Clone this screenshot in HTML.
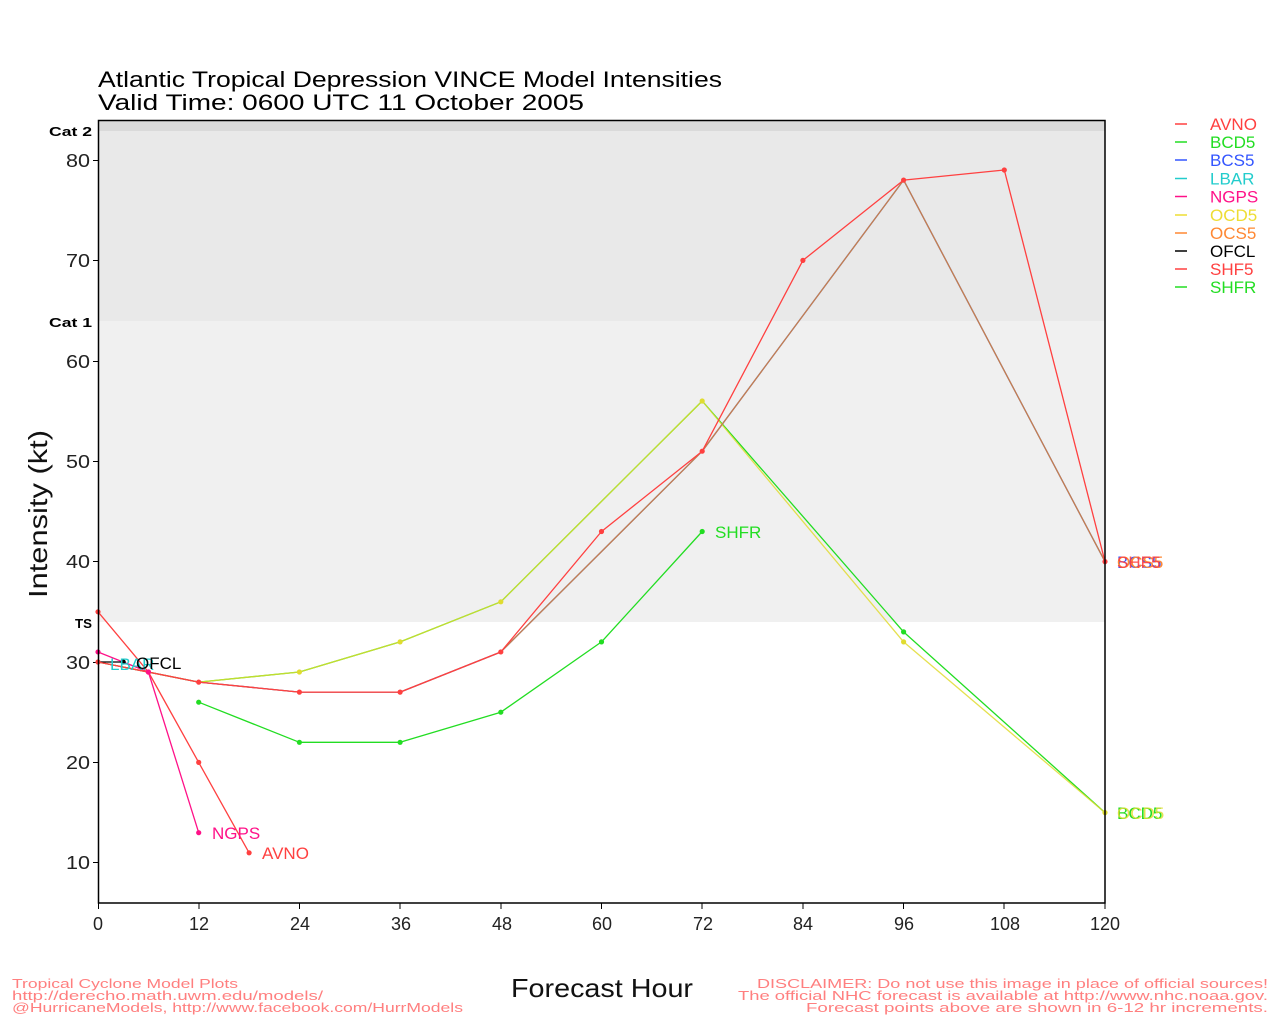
<!DOCTYPE html>
<html><head><meta charset="utf-8"><style>
html,body{margin:0;padding:0;background:#fff;}
svg{display:block;}
text{font-family:"Liberation Sans",sans-serif;}
</style></head><body>
<svg width="1280" height="1024" viewBox="0 0 1280 1024" xmlns="http://www.w3.org/2000/svg">
<rect x="0" y="0" width="1280" height="1024" fill="#fff"/>
<!-- bands -->
<rect x="98" y="120" width="1007" height="11" fill="#dadada"/>
<rect x="98" y="131" width="1007" height="190" fill="#e9e9e9"/>
<rect x="98" y="321" width="1007" height="301" fill="#f0f0f0"/>
<!-- title -->
<text x="98" y="87" font-size="22" textLength="624" lengthAdjust="spacingAndGlyphs" fill="#000">Atlantic Tropical Depression VINCE Model Intensities</text>
<text x="98" y="110" font-size="22" textLength="486" lengthAdjust="spacingAndGlyphs" fill="#000">Valid Time: 0600 UTC 11 October 2005</text>
<!-- cat labels -->
<g font-size="13" font-weight="bold" fill="#000">
<text x="49" y="136" textLength="43" lengthAdjust="spacingAndGlyphs">Cat 2</text>
<text x="49" y="327" textLength="43" lengthAdjust="spacingAndGlyphs">Cat 1</text>
<text x="75" y="628" textLength="17" lengthAdjust="spacingAndGlyphs">TS</text>
</g>
<!-- y ticks -->
<g stroke="#000" stroke-width="1">
<line x1="93" y1="160.5" x2="98" y2="160.5"/>
<line x1="93" y1="260.5" x2="98" y2="260.5"/>
<line x1="93" y1="361.5" x2="98" y2="361.5"/>
<line x1="93" y1="461.5" x2="98" y2="461.5"/>
<line x1="93" y1="561.5" x2="98" y2="561.5"/>
<line x1="93" y1="662.5" x2="98" y2="662.5"/>
<line x1="93" y1="762.5" x2="98" y2="762.5"/>
<line x1="93" y1="862.5" x2="98" y2="862.5"/>
</g>
<g font-size="18" fill="#222" text-anchor="end">
<text x="90" y="167" textLength="24" lengthAdjust="spacingAndGlyphs">80</text>
<text x="90" y="267" textLength="24" lengthAdjust="spacingAndGlyphs">70</text>
<text x="90" y="368" textLength="24" lengthAdjust="spacingAndGlyphs">60</text>
<text x="90" y="468" textLength="24" lengthAdjust="spacingAndGlyphs">50</text>
<text x="90" y="568" textLength="24" lengthAdjust="spacingAndGlyphs">40</text>
<text x="90" y="669" textLength="24" lengthAdjust="spacingAndGlyphs">30</text>
<text x="90" y="769" textLength="24" lengthAdjust="spacingAndGlyphs">20</text>
<text x="90" y="869" textLength="24" lengthAdjust="spacingAndGlyphs">10</text>
</g>
<!-- x ticks -->
<g stroke="#000" stroke-width="1">
<line x1="98.5" y1="903" x2="98.5" y2="909"/>
<line x1="199" y1="903" x2="199" y2="909"/>
<line x1="299.5" y1="903" x2="299.5" y2="909"/>
<line x1="400" y1="903" x2="400" y2="909"/>
<line x1="501" y1="903" x2="501" y2="909"/>
<line x1="601.5" y1="903" x2="601.5" y2="909"/>
<line x1="702" y1="903" x2="702" y2="909"/>
<line x1="803" y1="903" x2="803" y2="909"/>
<line x1="903.5" y1="903" x2="903.5" y2="909"/>
<line x1="1004" y1="903" x2="1004" y2="909"/>
<line x1="1105" y1="903" x2="1105" y2="909"/>
</g>
<g font-size="18" fill="#222" text-anchor="middle">
<text x="98" y="930">0</text>
<text x="199" y="930">12</text>
<text x="300" y="930">24</text>
<text x="401" y="930">36</text>
<text x="502" y="930">48</text>
<text x="602" y="930">60</text>
<text x="703" y="930">72</text>
<text x="803" y="930">84</text>
<text x="904" y="930">96</text>
<text x="1005" y="930">108</text>
<text x="1105" y="930">120</text>
</g>
<!-- axis labels -->
<text x="511" y="997" font-size="26" textLength="182" lengthAdjust="spacingAndGlyphs" fill="#111">Forecast Hour</text>
<text transform="translate(47,598) rotate(-90)" x="0" y="0" font-size="26" textLength="168" lengthAdjust="spacingAndGlyphs" fill="#111">Intensity (kt)</text>

<!-- series -->
<g fill="none" stroke-width="1.3" stroke-linejoin="round">
<!-- AVNO -->
<polyline stroke="#ff4040" points="98,611.8 148.4,672 198.7,762.4 249.1,852.8"/>
<!-- BCD5 -->
<polyline stroke="#22dd22" points="98,662 198.7,682.1 299.4,672 400.1,641.9 500.8,601.8 702.2,401 903.6,631.9 1105,812.6"/>
<!-- BCS5 -->
<polyline stroke="#3355ff" points="98,662 198.7,682.1 299.4,692.1 400.1,692.1 500.8,651.96 702.2,451.2 903.6,180.1 1105,561.6"/>
<!-- NGPS -->
<polyline stroke="#ff1188" points="98,651.96 148.4,672 198.7,832.7"/>
<!-- OCD5 -->
<polyline stroke="#e0dc30" stroke-opacity="0.85" points="98,662 198.7,682.1 299.4,672 400.1,641.9 500.8,601.8 702.2,401 903.6,641.9 1105,812.6"/>
<!-- OCS5 -->
<polyline stroke="#c8804a" points="98,662 198.7,682.1 299.4,692.1 400.1,692.1 500.8,651.96 702.2,451.2 903.6,180.1 1105,561.6"/>
<!-- OFCL -->
<polyline stroke="#000" points="98,662 123.2,662"/>
<!-- SHF5 -->
<polyline stroke="#ff4040" points="98,662 198.7,682.1 299.4,692.1 400.1,692.1 500.8,651.96 601.5,531.5 702.2,451.2 802.9,260.4 903.6,180.1 1004.3,170 1105,561.6"/>
<!-- SHFR -->
<polyline stroke="#22dd22" points="198.7,702.2 299.4,742.3 400.1,742.3 500.8,712.2 601.5,641.9 702.2,531.5"/>
</g>
<!-- markers -->
<g>
<g fill="#ff4040">
<circle cx="98" cy="611.8" r="2.6"/><circle cx="148.4" cy="672" r="2.6"/><circle cx="198.7" cy="762.4" r="2.6"/><circle cx="249.1" cy="852.8" r="2.6"/>
</g>
<g fill="#ff1188">
<circle cx="98" cy="651.96" r="2.6"/><circle cx="148.4" cy="672" r="2.6"/><circle cx="198.7" cy="832.7" r="2.6"/>
</g>
<g fill="#22dd22">
<circle cx="903.6" cy="631.9" r="2.6"/>
</g>
<g fill="#e0dc30">
<circle cx="299.4" cy="672" r="2.6"/><circle cx="400.1" cy="641.9" r="2.6"/><circle cx="500.8" cy="601.8" r="2.6"/><circle cx="702.2" cy="401" r="2.6"/><circle cx="903.6" cy="641.9" r="2.6"/><circle cx="1105" cy="812.6" r="2.6"/>
</g>
<g fill="#000"><circle cx="123.2" cy="662" r="2.6"/></g>
<g fill="#ff4040">
<circle cx="98" cy="662" r="2.6"/><circle cx="198.7" cy="682.1" r="2.6"/><circle cx="299.4" cy="692.1" r="2.6"/><circle cx="400.1" cy="692.1" r="2.6"/><circle cx="500.8" cy="651.96" r="2.6"/><circle cx="601.5" cy="531.5" r="2.6"/><circle cx="702.2" cy="451.2" r="2.6"/><circle cx="802.9" cy="260.4" r="2.6"/><circle cx="903.6" cy="180.1" r="2.6"/><circle cx="1004.3" cy="170" r="2.6"/><circle cx="1105" cy="561.6" r="2.6"/>
</g>
<g fill="#22dd22">
<circle cx="198.7" cy="702.2" r="2.6"/><circle cx="299.4" cy="742.3" r="2.6"/><circle cx="400.1" cy="742.3" r="2.6"/><circle cx="500.8" cy="712.2" r="2.6"/><circle cx="601.5" cy="641.9" r="2.6"/><circle cx="702.2" cy="531.5" r="2.6"/>
</g>
</g>
<!-- frame -->
<rect x="98.5" y="120.5" width="1006.5" height="782.5" fill="none" stroke="#000" stroke-width="1.5"/>

<!-- series end labels -->
<g font-size="17">
<text x="262" y="859" fill="#ff4040">AVNO</text>
<text x="212" y="839" fill="#ff1188">NGPS</text>
<text x="110" y="670" fill="#22cccc">LBAR</text>
<text x="136" y="669" fill="#000">OFCL</text>
<text x="715" y="538" fill="#22dd22">SHFR</text>
<text x="1117" y="568" fill="#3355ff">BCS5</text>
<text x="1117" y="568" fill="#ff8833">OCS5</text>
<text x="1117" y="568" fill="#ff4040" fill-opacity="0.9">SHF5</text>
<text x="1117" y="819" fill="#22dd22">BCD5</text>
<text x="1117" y="819" fill="#e0dc30" fill-opacity="0.85">OCD5</text>
</g>

<!-- legend -->
<g stroke-width="1.5">
<line x1="1175" y1="124" x2="1187" y2="124" stroke="#ff4040"/>
<line x1="1175" y1="142" x2="1187" y2="142" stroke="#22dd22"/>
<line x1="1175" y1="160" x2="1187" y2="160" stroke="#3355ff"/>
<line x1="1175" y1="178.5" x2="1187" y2="178.5" stroke="#22cccc"/>
<line x1="1175" y1="196.5" x2="1187" y2="196.5" stroke="#ff1188"/>
<line x1="1175" y1="215" x2="1187" y2="215" stroke="#eedd33"/>
<line x1="1175" y1="233" x2="1187" y2="233" stroke="#ff8833"/>
<line x1="1175" y1="251" x2="1187" y2="251" stroke="#000"/>
<line x1="1175" y1="269" x2="1187" y2="269" stroke="#ff4040"/>
<line x1="1175" y1="287" x2="1187" y2="287" stroke="#22dd22"/>
</g>
<g font-size="17">
<text x="1210" y="130" fill="#ff4040">AVNO</text>
<text x="1210" y="148" fill="#22dd22">BCD5</text>
<text x="1210" y="166" fill="#3355ff">BCS5</text>
<text x="1210" y="184.5" fill="#22cccc">LBAR</text>
<text x="1210" y="202.5" fill="#ff1188">NGPS</text>
<text x="1210" y="221" fill="#eedd33">OCD5</text>
<text x="1210" y="239" fill="#ff8833">OCS5</text>
<text x="1210" y="257" fill="#000">OFCL</text>
<text x="1210" y="275" fill="#ff4040">SHF5</text>
<text x="1210" y="293" fill="#22dd22">SHFR</text>
</g>

<!-- footer -->
<g font-size="13" fill="#ff7f7f">
<text x="12" y="988" textLength="226" lengthAdjust="spacingAndGlyphs">Tropical Cyclone Model Plots</text>
<text x="12" y="1000" textLength="311" lengthAdjust="spacingAndGlyphs">http://derecho.math.uwm.edu/models/</text>
<text x="12" y="1012" textLength="451" lengthAdjust="spacingAndGlyphs">@HurricaneModels, http://www.facebook.com/HurrModels</text>
<text x="757" y="988" textLength="511" lengthAdjust="spacingAndGlyphs">DISCLAIMER: Do not use this image in place of official sources!</text>
<text x="738" y="1000" textLength="530" lengthAdjust="spacingAndGlyphs">The official NHC forecast is available at http://www.nhc.noaa.gov.</text>
<text x="806" y="1012" textLength="462" lengthAdjust="spacingAndGlyphs">Forecast points above are shown in 6-12 hr increments.</text>
</g>
</svg>
</body></html>
